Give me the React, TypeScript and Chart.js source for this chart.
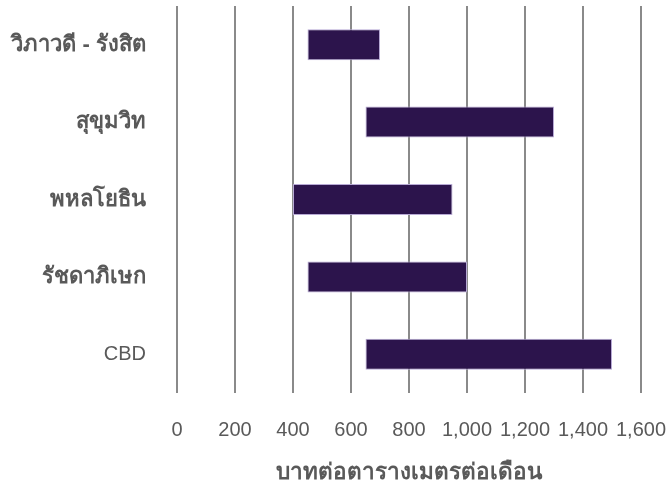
import React, { useEffect, useRef } from "react";
import { Chart, registerables } from "chart.js";

Chart.register(...registerables);

const categories = ["วิภาวดี - รังสิต", "สุขุมวิท", "พหลโยธิน", "รัชดาภิเษก", "CBD"];
const minValues = [450, 650, 400, 450, 650];
const maxValues = [700, 1300, 950, 1000, 1500];
const axisTitle = "บาทต่อตารางเมตรต่อเดือน";

const FONT = "'Liberation Sans', Arial, 'Noto Sans', 'DejaVu Sans', sans-serif";
const TEXT = "#595959";
const isThai = (s: string) => /[\u0E00-\u0E7F]/.test(s);

export default function App() {
  const ref = useRef<HTMLCanvasElement>(null);
  useEffect(() => {
    if (!ref.current) return;
    const chart = new Chart(ref.current, {
      type: "bar",
      data: {
        labels: categories,
        datasets: [
          {
            data: categories.map((_, i) => [minValues[i], maxValues[i]]) as any,
            backgroundColor: "#2c144c",
            borderColor: "#b7a9d4",
            borderWidth: 1,
            borderSkipped: false,
            barPercentage: 0.8,
            categoryPercentage: 0.5,
          },
        ],
      },
      options: {
        indexAxis: "y",
        animation: false,
        responsive: false,
        maintainAspectRatio: false,
        layout: { padding: { top: 6, right: 28, left: 0, bottom: 0 } },
        plugins: { legend: { display: false }, tooltip: { enabled: false }, title: { display: false } },
        scales: {
          x: {
            min: 0,
            max: 1600,
            ticks: {
              stepSize: 200,
              padding: 25,
              maxRotation: 0,
              minRotation: 0,
              autoSkip: false,
              color: TEXT,
              font: { family: FONT, size: 20 },
            },
            grid: { color: "#8a8a8a", lineWidth: 2, drawTicks: false },
            border: { display: false },
            title: {
              display: true,
              text: axisTitle,
              color: TEXT,
              font: { family: FONT, size: 22.5, weight: "bold" },
              padding: { top: 0, bottom: 2 },
            },
            afterFit: (s: any) => {
              s.height = 95;
              s.paddingLeft = 0;
              s.paddingRight = 0;
            },
          },
          y: {
            ticks: {
              padding: 31,
              color: TEXT,
              font: (ctx: any) => {
                const lbl = ctx.tick ? String(ctx.tick.label) : "";
                return isThai(lbl)
                  ? { family: FONT, size: 22, weight: "bold" }
                  : { family: FONT, size: 20, weight: "normal" };
              },
            },
            grid: { display: false, drawTicks: false },
            border: { display: false },
            afterFit: (s: any) => {
              s.width = 177;
              s.paddingTop = 0;
              s.paddingBottom = 0;
            },
          },
        },
      },
    });
    return () => chart.destroy();
  }, []);
  return (
    <div style={{ position: "absolute", left: 0, top: 0, width: 669, height: 488 }}>
      <canvas ref={ref} width={669} height={488} style={{ display: "block" }} />
    </div>
  );
}
